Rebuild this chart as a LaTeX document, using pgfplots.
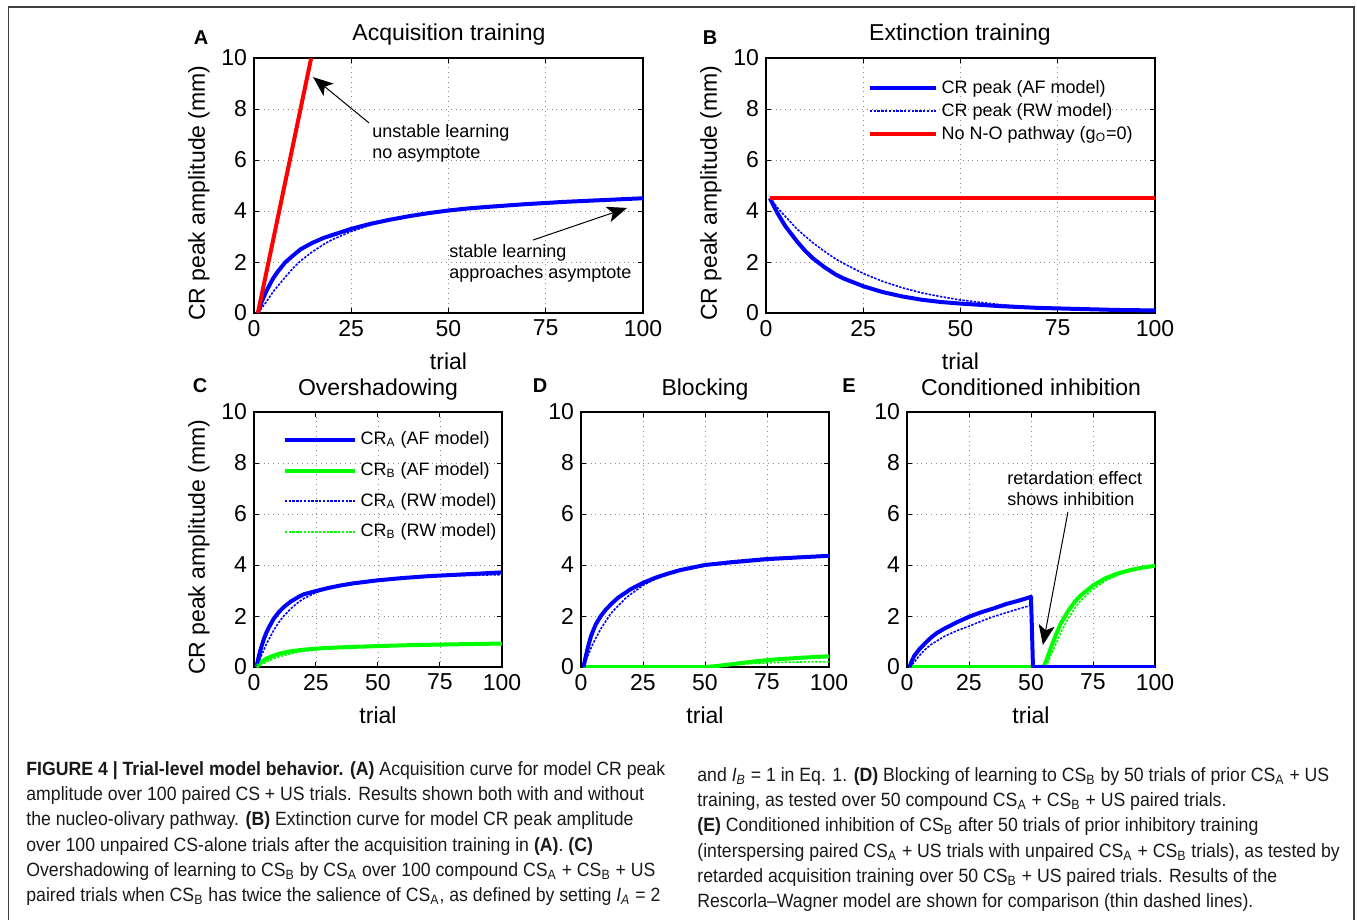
\documentclass[border=0pt]{standalone}
\usepackage{fontspec}
\setmainfont{Liberation Sans}
\newfontfamily\capfont[FakeStretch=0.92]{Liberation Sans}
\usepackage{pgfplots}
\pgfplotsset{compat=1.18}
\usetikzlibrary{arrows.meta}
\definecolor{mblue}{RGB}{0,0,255}
\definecolor{mgreen}{RGB}{0,255,0}
\definecolor{mred}{RGB}{255,0,0}

\newcommand{\lab}{\fontsize{11.5}{13}\selectfont}
\newcommand{\annot}{\fontsize{9}{10.5}\selectfont}
\newcommand{\sub}[1]{\textsubscript{#1}}

\pgfplotsset{
  panel/.style={
    scale only axis, height=127.5pt,
    xmin=0, xmax=100, ymin=0, ymax=10,
    xtick={0,25,50,75,100}, ytick={0,2,4,6,8,10},
    grid=major, major grid style={black!45, dotted, line width=0.4pt},
    tick align=inside, tick pos=both, major tick length=2.5pt,
    tick style={black, line width=0.5pt},
    axis line style={black, line width=0.6pt},
    tick label style={font=\lab},
    /pgf/number format/assume math mode=true,
    label style={font=\lab},
    xlabel={trial},
    xlabel style={at={(axis description cs:0.5,-0.19)}, anchor=center},
    clip=true,
  },
  withylabel/.style={
    ylabel={CR peak amplitude (mm)},
    ylabel style={at={(axis description cs:0,0.47)}, yshift=27.5pt, anchor=center},
  },
  af/.style={line width=2pt, line join=round},
  rw/.style={line width=0.8pt, dash pattern=on 1.2pt off 0.7pt},
}

\begin{document}
\begin{tikzpicture}
\path[use as bounding box] (0,0) rectangle (678.5pt,-460pt);
\draw[black!75, line width=0.75pt] (4.25pt,-460pt) -- (4.25pt,-3.5pt) -- (677pt,-3.5pt) -- (677pt,-460pt);

% ---------- A ----------
\begin{axis}[panel, withylabel, width=194.5pt, at={(127pt,-156.5pt)}, anchor=south west]
\addplot[mblue, af] coordinates {(1,0) (2,0.45) (3,0.8) (4,1.1) (5,1.38) (6,1.6) (8,1.98) (10,2.25) (12,2.5) (15,2.75) (18,2.95) (20,3.05) (25,3.3) (30,3.5) (35,3.66) (40,3.8) (45,3.92) (50,4.02) (55,4.1) (60,4.16) (70,4.27) (80,4.36) (90,4.43) (100,4.5)};
\addplot[mblue, rw] coordinates {(1,0) (3,0.4) (5,0.85) (8,1.4) (10,1.75) (12,2.05) (15,2.4) (18,2.7) (20,2.87) (25,3.2) (30,3.45) (35,3.65) (40,3.82) (50,4.05) (60,4.2) (70,4.3) (80,4.38) (90,4.44) (100,4.48)};
\addplot[mred, af] coordinates {(1,0) (14.7,10)};
\draw[-{Stealth[length=10pt,width=8pt,inset=2.5pt]}, line width=0.5pt] (axis cs:29.6,7.45) -- (axis cs:15.2,9.25);
\node[font=\annot, align=left, anchor=west, inner sep=0pt] at (axis cs:30.3,6.67) {unstable learning\\no asymptote};
\draw[-{Stealth[length=10pt,width=8pt,inset=2.5pt]}, line width=0.5pt] (axis cs:71.7,2.86) -- (axis cs:95.9,4.12);
\node[font=\annot, align=left, anchor=west, inner sep=0pt] at (axis cs:50.1,1.96) {stable learning\\approaches asymptote};
\end{axis}

% ---------- B ----------
\begin{axis}[panel, withylabel, width=194.5pt, at={(383pt,-156.5pt)}, anchor=south west,
  legend style={at={(0.245,0.945)}, anchor=north west, draw=none, fill=none, font=\annot,
    row sep=-0.6pt, cells={anchor=west}},
  legend image code/.code={\draw[#1] (0pt,0pt) -- (33pt,0pt);}]
\addplot[mblue, af] coordinates {(1,4.5) (3,3.9) (5,3.4) (8,2.8) (10,2.45) (12,2.15) (15,1.8) (18,1.5) (20,1.35) (25,1.05) (30,0.82) (35,0.65) (40,0.52) (45,0.43) (50,0.37) (60,0.27) (70,0.2) (80,0.16) (90,0.12) (100,0.1)};
\addlegendentry{CR peak (AF model)}
\addplot[mblue, rw] coordinates {(1,4.5) (3,4.12) (5,3.78) (8,3.29) (10,3.02) (12,2.76) (15,2.42) (18,2.11) (20,1.94) (25,1.55) (30,1.24) (35,0.99) (40,0.79) (45,0.64) (50,0.51) (60,0.33) (70,0.21) (80,0.13) (90,0.09) (100,0.055)};
\addlegendentry{CR peak (RW model)}
\addplot[mred, af] coordinates {(1,4.5) (100,4.5)};
\addlegendentry{No N-O pathway (g\sub{O}=0)}
\end{axis}

% ---------- C ----------
\begin{axis}[panel, withylabel, width=124pt, at={(127pt,-333.5pt)}, anchor=south west,
  legend style={at={(0.09,0.955)}, anchor=north west, draw=none, fill=none, font=\annot,
    row sep=3.3pt, cells={anchor=west}},
  legend image code/.code={\draw[#1] (0pt,0pt) -- (35pt,0pt);}]
\addplot[mblue, af] coordinates {(1,0) (2,0.45) (3,0.8) (4,1.1) (5,1.35) (6,1.55) (8,1.9) (10,2.15) (12,2.35) (15,2.58) (18,2.75) (20,2.85) (25,2.98) (30,3.1) (35,3.2) (40,3.28) (50,3.4) (60,3.49) (70,3.56) (80,3.61) (90,3.66) (100,3.71)};
\addlegendentry{CR\sub{A} (AF model)}
\addplot[mgreen, af] coordinates {(1,0) (3,0.2) (5,0.33) (8,0.45) (10,0.52) (15,0.62) (20,0.68) (25,0.72) (30,0.75) (40,0.79) (50,0.82) (60,0.85) (75,0.88) (100,0.92)};
\addlegendentry{CR\sub{B} (AF model)}
\addplot[mblue, rw] coordinates {(1,0) (3,0.45) (5,0.9) (8,1.45) (10,1.75) (12,2.0) (15,2.3) (18,2.55) (20,2.68) (25,2.92) (30,3.08) (40,3.3) (50,3.43) (60,3.5) (75,3.57) (100,3.62)};
\addlegendentry{CR\sub{A} (RW model)}
\addplot[mgreen, rw] coordinates {(1,0) (3,0.1) (5,0.2) (8,0.33) (10,0.4) (15,0.53) (20,0.62) (25,0.68) (30,0.72) (40,0.77) (50,0.8) (75,0.86) (100,0.9)};
\addlegendentry{CR\sub{B} (RW model)}
\end{axis}

% ---------- D ----------
\begin{axis}[panel, width=124pt, at={(290.5pt,-333.5pt)}, anchor=south west]
\addplot[mgreen, af] coordinates {(1,0) (50,0) (55,0.04) (60,0.1) (65,0.16) (70,0.22) (75,0.27) (80,0.31) (90,0.37) (100,0.42)};
\addplot[mgreen, rw] coordinates {(1,0) (50,0) (55,0.04) (60,0.08) (70,0.14) (80,0.18) (90,0.2) (100,0.2)};
\addplot[mblue, af] coordinates {(1,0) (2,0.45) (3,0.85) (4,1.2) (5,1.45) (6,1.68) (8,2.0) (10,2.25) (12.5,2.5) (15,2.72) (20,3.05) (25,3.3) (30,3.5) (35,3.66) (40,3.8) (50,4.0) (60,4.1) (75,4.23) (90,4.31) (100,4.36)};
\addplot[mblue, rw] coordinates {(1,0) (3,0.5) (5,0.95) (8,1.5) (10,1.8) (12,2.1) (15,2.4) (18,2.7) (20,2.85) (25,3.2) (30,3.45) (40,3.8) (50,4.02) (60,4.15) (75,4.28) (100,4.38)};
\end{axis}

% ---------- E ----------
\begin{axis}[panel, width=124pt, at={(453.5pt,-333.5pt)}, anchor=south west]
\addplot[mgreen, af] coordinates {(1,0) (55,0) (56,0.2) (58,0.75) (60,1.25) (62,1.7) (65,2.2) (68,2.6) (70,2.8) (75,3.2) (80,3.48) (85,3.67) (90,3.8) (95,3.9) (100,3.97)};
\addplot[mgreen, rw] coordinates {(1,0) (56,0) (58,0.45) (60,0.9) (62,1.35) (65,1.9) (68,2.35) (70,2.6) (75,3.05) (80,3.38) (85,3.6) (90,3.76) (95,3.88) (100,3.95)};
\addplot[mblue, rw] coordinates {(1,0) (3,0.2) (5,0.45) (8,0.75) (10,0.9) (15,1.2) (20,1.42) (25,1.6) (30,1.8) (35,1.98) (40,2.13) (45,2.28) (50,2.42)};
\addplot[mblue, af] coordinates {(1,0) (2,0.25) (3,0.45) (5,0.7) (8,1.0) (10,1.18) (12,1.33) (15,1.5) (20,1.75) (25,1.97) (30,2.15) (35,2.3) (40,2.47) (45,2.6) (50,2.75) (50.8,0) (100,0)};
\draw[-{Stealth[length=10pt,width=8pt,inset=2.5pt]}, line width=0.5pt] (axis cs:64.9,6.08) -- (axis cs:54.8,0.86);
\node[font=\annot, align=left, anchor=west, inner sep=0pt] at (axis cs:40.3,6.98) {retardation effect\\shows inhibition};
\end{axis}

% titles and panel letters
\node[font=\lab, anchor=base] at (224.5pt,-20.5pt) {Acquisition training};
\node[font=\lab, anchor=base] at (480pt,-20.5pt) {Extinction training};
\node[font=\lab, anchor=base] at (189pt,-197.5pt) {Overshadowing};
\node[font=\lab, anchor=base] at (352.5pt,-197.5pt) {Blocking};
\node[font=\lab, anchor=base] at (515.5pt,-197.5pt) {Conditioned inhibition};
\node[font=\fontsize{10}{12}\selectfont\bfseries] at (100.5pt,-19pt) {A};
\node[font=\fontsize{10}{12}\selectfont\bfseries] at (355pt,-19pt) {B};
\node[font=\fontsize{10}{12}\selectfont\bfseries] at (100pt,-193pt) {C};
\node[font=\fontsize{10}{12}\selectfont\bfseries] at (270pt,-193pt) {D};
\node[font=\fontsize{10}{12}\selectfont\bfseries] at (424.5pt,-193pt) {E};

% caption
\node[anchor=north west, inner sep=0pt, align=left, text=black!90,
  font=\capfont\fontsize{9.6}{12.65}\selectfont] at (13pt,-380.5pt) {%
\textbf{FIGURE 4 | Trial-level model behavior. (A)} Acquisition curve for model CR peak\\
amplitude over 100 paired CS + US trials. Results shown both with and without\\
the nucleo-olivary pathway. \textbf{(B)} Extinction curve for model CR peak amplitude\\
over 100 unpaired CS-alone trials after the acquisition training in \textbf{(A)}. \textbf{(C)}\\
Overshadowing of learning to CS\sub{B} by CS\sub{A} over 100 compound CS\sub{A} + CS\sub{B} + US\\
paired trials when CS\sub{B} has twice the salience of CS\sub{A}, as defined by setting \textit{I}\sub{\textit{A}} = 2};
\node[anchor=north west, inner sep=0pt, align=left, text=black!90,
  font=\capfont\fontsize{9.6}{12.65}\selectfont] at (348.5pt,-383.5pt) {%
and \textit{I}\sub{\textit{B}} = 1 in Eq. 1. \textbf{(D)} Blocking of learning to CS\sub{B} by 50 trials of prior CS\sub{A} + US\\
training, as tested over 50 compound CS\sub{A} + CS\sub{B} + US paired trials.\\
\textbf{(E)} Conditioned inhibition of CS\sub{B} after 50 trials of prior inhibitory training\\
(interspersing paired CS\sub{A} + US trials with unpaired CS\sub{A} + CS\sub{B} trials), as tested by\\
retarded acquisition training over 50 CS\sub{B} + US paired trials. Results of the\\
Rescorla–Wagner model are shown for comparison (thin dashed lines).};
\end{tikzpicture}
\end{document}
